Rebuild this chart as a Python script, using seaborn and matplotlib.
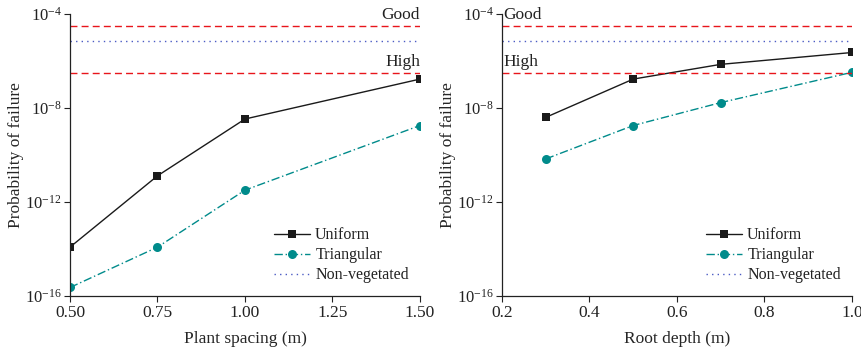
import numpy as np
import pandas as pd
import matplotlib
matplotlib.use("Agg")
import matplotlib.pyplot as plt
import seaborn as sns
from matplotlib.ticker import FixedLocator, LogFormatterSciNotation, NullLocator

sns.set_style("ticks")
plt.rcParams['font.family'] = ['Liberation Serif', 'DejaVu Serif']
plt.rcParams['mathtext.fontset'] = 'stix'
plt.rcParams['font.size'] = 12.5

# ── Data ─────────────────────────────────────
spacing = [0.50, 0.75, 1.00, 1.50]
spacing_uniform = [1.2e-14, 1.3e-11, 3.4e-9, 1.7e-7]
spacing_triangular = [2.3e-16, 1.2e-14, 3.2e-12, 1.8e-9]

depth = [0.3, 0.5, 0.7, 1.0]
depth_uniform = [4.0e-9, 1.7e-7, 7.2e-7, 2.3e-6]
depth_triangular = [6.8e-11, 1.8e-9, 1.7e-8, 3.3e-7]

good_level = 3.1e-5
high_level = 3.1e-7
nonveg_level = 7.0e-6

spacing_ticks = [0.50, 0.75, 1.00, 1.25, 1.50]
depth_ticks = [0.2, 0.4, 0.6, 0.8, 1.0]
y_ticks = [1e-16, 1e-12, 1e-8, 1e-4]

teal = '#008b8b'
red = '#e8151b'
blue = '#4b5bc4'

fig = plt.figure(figsize=(8.62, 3.54), dpi=100)
ax1 = fig.add_axes([70/862, 1 - 296/354, 350/862, 282/354])
ax2 = fig.add_axes([502/862, 1 - 296/354, 350/862, 282/354])


def draw(ax, x, uni, tri, xlim, xticks, xlabel, fmt, label_side):
    df = pd.DataFrame({'x': x, 'Uniform': uni, 'Triangular': tri})
    sns.lineplot(data=df, x='x', y='Uniform', ax=ax, color='#1a1a1a', lw=1.0,
                 marker='s', markersize=6, markeredgewidth=0, label='Uniform')
    sns.lineplot(data=df, x='x', y='Triangular', ax=ax, color=teal, lw=1.0,
                 linestyle=(0, (6, 2, 1, 2)), marker='o', markersize=6.5,
                 markeredgewidth=0, label='Triangular')
    ax.axhline(nonveg_level, color=blue, lw=1.0, linestyle=(0, (1, 3)),
               label='Non-vegetated')
    ax.axhline(good_level, color=red, lw=1.0, linestyle=(0, (5, 3)))
    ax.axhline(high_level, color=red, lw=1.0, linestyle=(0, (5, 3)))

    ax.set_yscale('log')
    ax.set_ylim(1e-16, 1e-4)
    ax.yaxis.set_major_locator(FixedLocator(y_ticks))
    ax.yaxis.set_major_formatter(LogFormatterSciNotation())
    ax.yaxis.set_minor_locator(NullLocator())
    ax.set_xlim(*xlim)
    ax.set_xticks(xticks)
    ax.set_xticklabels([fmt.format(t) for t in xticks])
    ax.set_xlabel(xlabel, labelpad=7)
    ax.set_ylabel('Probability of failure', labelpad=1)
    sns.despine(ax=ax)
    ax.tick_params(direction='out', length=4, width=0.8, colors='#222222',
                   labelcolor='#222222', pad=2.5)
    ax.tick_params(axis='y', labelsize=12, pad=2)
    for s in ['left', 'bottom']:
        ax.spines[s].set_linewidth(0.9)
        ax.spines[s].set_color('#222222')

    if label_side == 'right':
        xt, ha = xlim[1], 'right'
    else:
        xt, ha = xlim[0] + 0.005 * (xlim[1] - xlim[0]), 'left'
    ax.text(xt, good_level * 1.35, 'Good', ha=ha, va='bottom', color='#222222')
    ax.text(xt, high_level * 1.35, 'High', ha=ha, va='bottom', color='#222222')

    leg = ax.legend(loc='lower right', frameon=False, handlelength=2.25,
                    handletextpad=0.3, labelspacing=0.25, borderpad=0.2,
                    fontsize=11.5, bbox_to_anchor=(1.0, 0.005))
    for t in leg.get_texts():
        t.set_color('#222222')


draw(ax1, spacing, spacing_uniform, spacing_triangular, (0.5, 1.5),
     spacing_ticks, 'Plant spacing (m)', '{:.2f}', 'right')
draw(ax2, depth, depth_uniform, depth_triangular, (0.2, 1.0),
     depth_ticks, 'Root depth (m)', '{:.1f}', 'left')

fig.savefig('out.png', dpi=100)
